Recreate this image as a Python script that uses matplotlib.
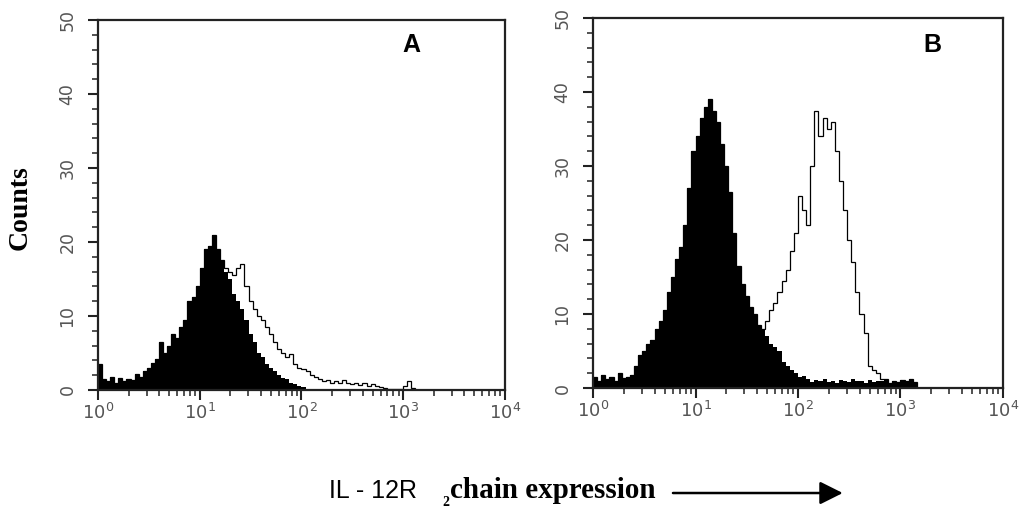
import numpy as np
import matplotlib
matplotlib.use("Agg")
import matplotlib.pyplot as plt
from matplotlib.patches import FancyArrowPatch
from matplotlib.ticker import LogLocator, MultipleLocator, NullFormatter

# histogram channels: 0.04 decade wide, from 10^0 up to 10^3.2
decade_step = 0.04

# panel A - control (filled) and stained (outline)
a_filled = [
    3.5, 1.5, 1.2, 1.8, 1.0, 1.6, 1.2, 1.5, 1.3, 2.2,
    1.8, 2.6, 3.0, 3.6, 4.2, 6.5, 5.0, 6.0, 7.5, 7.0,
    8.5, 9.5, 12.0, 12.5, 14.0, 16.5, 19.0, 19.5, 21.0, 19.0,
    17.5, 16.0, 15.0, 13.0, 12.0, 11.0, 9.5, 7.5, 6.5, 5.0,
    4.5, 3.5, 3.0, 2.5, 2.0, 1.6, 1.5, 1.0, 0.8, 0.6,
    0.4, 0.2, 0, 0, 0, 0, 0, 0, 0, 0,
    0, 0, 0, 0, 0, 0, 0, 0, 0, 0,
    0, 0, 0, 0, 0, 0, 0, 0, 0, 0,
]
a_open = [
    3.5, 1.5, 1.2, 1.8, 1.0, 1.6, 1.2, 1.5, 1.3, 2.2,
    1.8, 2.6, 3.0, 3.6, 4.2, 6.5, 5.0, 6.0, 7.5, 7.0,
    8.5, 9.5, 12.0, 12.5, 14.0, 16.5, 19.0, 19.5, 21.0, 19.0,
    17.5, 16.5, 16.0, 15.5, 16.5, 17.0, 14.0, 12.0, 11.0, 10.0,
    9.5, 8.5, 7.5, 6.5, 5.5, 5.0, 4.5, 4.8, 3.5, 3.0,
    2.8, 2.5, 2.0, 1.8, 1.5, 1.2, 1.4, 1.0, 1.2, 1.0,
    1.3, 1.0, 0.8, 1.0, 0.7, 0.9, 0.6, 0.8, 0.5, 0.4,
    0.3, 0.2, 0.1, 0.1, 0.1, 0.5, 1.2, 0.3, 0, 0,
]

# panel B
b_filled = [
    1.5, 1.0, 1.8, 1.2, 1.5, 1.0, 2.0, 1.3, 1.5, 1.8,
    3.0, 4.5, 5.0, 6.0, 6.5, 8.0, 9.0, 10.5, 13.0, 15.0,
    17.5, 19.0, 22.0, 27.0, 32.0, 34.0, 36.5, 38.0, 39.0, 37.5,
    36.0, 33.0, 30.0, 26.5, 21.0, 16.5, 14.0, 12.5, 11.0, 10.0,
    8.5, 8.0, 7.0, 6.0, 5.5, 5.0, 3.5, 3.0, 2.4, 2.0,
    1.5, 1.6, 1.2, 0.8, 1.1, 0.9, 1.2, 0.8, 1.0, 0.7,
    1.1, 0.9, 0.8, 1.2, 0.9, 1.0, 0.7, 1.1, 0.8, 1.0,
    0.9, 1.2, 0.7, 1.0, 0.8, 1.1, 0.9, 1.2, 0.8, 0,
]
b_open = [
    1.5, 1.0, 1.8, 1.2, 1.5, 1.0, 2.0, 1.3, 1.5, 1.8,
    3.0, 4.5, 5.0, 6.0, 6.5, 8.0, 9.0, 10.5, 13.0, 15.0,
    17.5, 19.0, 22.0, 27.0, 32.0, 34.0, 36.5, 38.0, 39.0, 37.5,
    36.0, 33.0, 30.0, 26.5, 21.0, 16.5, 14.0, 12.5, 11.0, 10.0,
    8.5, 8.0, 9.0, 10.5, 11.5, 13.0, 14.5, 16.0, 18.5, 21.0,
    26.0, 24.0, 22.0, 30.0, 37.5, 34.0, 36.5, 35.0, 36.0, 32.0,
    28.0, 24.0, 20.0, 17.0, 13.0, 10.0, 7.5, 3.0, 2.5, 2.0,
    1.2, 1.2, 0.7, 1.0, 0.8, 1.1, 0.9, 1.2, 0.8, 0,
]

panel_labels = ["A", "B"]
y_ticks = [0, 10, 20, 30, 40, 50]

edges = 10 ** (decade_step * np.arange(len(a_filled) + 1))

fig = plt.figure(figsize=(10.29, 5.08), dpi=100)
ax_a = fig.add_axes([0.0952, 0.2323, 0.3955, 0.7283])
ax_b = fig.add_axes([0.5763, 0.2362, 0.3984, 0.7283])

tick_color = "#555555"
for ax, filled, outline, name, lab_pos in [
    (ax_a, a_filled, a_open, panel_labels[0], (0.769, 0.932)),
    (ax_b, b_filled, b_open, panel_labels[1], (0.829, 0.927)),
]:
    ax.stairs(filled, edges, fill=True, color="black", lw=0)
    ax.stairs(outline, edges, color="black", lw=0.9)
    ax.set_xscale("log")
    ax.set_xlim(1, 1e4)
    ax.set_ylim(0, 50)
    ax.set_yticks(y_ticks)
    ax.yaxis.set_minor_locator(MultipleLocator(2))
    ax.xaxis.set_major_locator(LogLocator(base=10, numticks=10))
    ax.xaxis.set_minor_locator(LogLocator(base=10, subs=np.arange(2, 10), numticks=20))
    ax.xaxis.set_minor_formatter(NullFormatter())
    for lab in ax.get_yticklabels():
        lab.set_rotation(90)
        lab.set_va("center")
    ax.tick_params(axis="both", which="major", direction="out", length=7.5, width=1.5,
                   colors="#222222", labelcolor=tick_color)
    ax.tick_params(axis="both", which="minor", direction="out", length=4, width=1.1,
                   colors="#222222")
    ax.tick_params(axis="y", labelsize=12.5, pad=8)
    ax.tick_params(axis="x", labelsize=13, pad=2)
    for s in ax.spines.values():
        s.set_linewidth(1.6)
        s.set_color("#222222")
    ax.text(lab_pos[0], lab_pos[1], name, transform=ax.transAxes, fontsize=18,
            fontweight="bold", family="Liberation Sans", ha="center", va="center")

fig.text(0.0194, 0.592, "Counts", rotation=90, ha="center", va="center",
         family="Liberation Serif", fontweight="bold", fontsize=20)

fig.text(0.3197, 0.0197, "IL - 12R", family="Liberation Sans", fontsize=18,
         ha="left", va="baseline")
fig.text(0.4295, 0.004, "2", family="Liberation Serif", fontweight="bold", fontsize=10,
         ha="left", va="baseline")
fig.text(0.4373, 0.0197, "chain expression", family="Liberation Serif",
         fontweight="bold", fontsize=21, ha="left", va="baseline")
fig.add_artist(FancyArrowPatch(
    (0.654, 0.0295), (0.819, 0.0295), transform=fig.transFigure,
    arrowstyle="-|>,head_length=14,head_width=7", color="black", lw=1.8,
    shrinkA=0, shrinkB=0))

fig.savefig("out.png", dpi=100)
